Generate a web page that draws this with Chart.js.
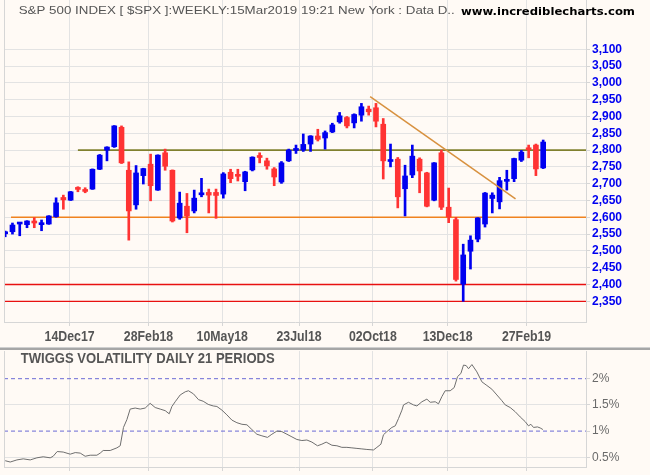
<!DOCTYPE html>
<html><head><meta charset="utf-8">
<script src="https://cdn.jsdelivr.net/npm/chart.js@4.4.1/dist/chart.umd.min.js"></script>
<style>
html,body{margin:0;padding:0;background:#fffaf5;}
#wrap{position:relative;width:650px;height:475px;overflow:hidden;background:#fffaf5;}
.pane{position:absolute;left:0;width:650px;}
</style></head><body>
<div id="wrap">
  <div class="pane" style="top:0;height:347px"><canvas id="top" width="650" height="347"></canvas></div>
  <div class="pane" style="top:347px;height:128px"><canvas id="bot" width="650" height="128"></canvas></div>
</div>
<script>
// ---------- DATA ----------
const weekEnding = ['2017-10-13','2017-10-20','2017-10-27','2017-11-03','2017-11-10','2017-11-17','2017-11-24','2017-12-01','2017-12-08','2017-12-15',
 '2017-12-22','2017-12-29','2018-01-05','2018-01-12','2018-01-19','2018-01-26','2018-02-02','2018-02-09','2018-02-16','2018-02-23',
 '2018-03-02','2018-03-09','2018-03-16','2018-03-23','2018-03-30','2018-04-06','2018-04-13','2018-04-20','2018-04-27','2018-05-04',
 '2018-05-11','2018-05-18','2018-05-25','2018-06-01','2018-06-08','2018-06-15','2018-06-22','2018-06-29','2018-07-06','2018-07-13',
 '2018-07-20','2018-07-27','2018-08-03','2018-08-10','2018-08-17','2018-08-24','2018-08-31','2018-09-07','2018-09-14','2018-09-21',
 '2018-09-28','2018-10-05','2018-10-12','2018-10-19','2018-10-26','2018-11-02','2018-11-09','2018-11-16','2018-11-23','2018-11-30',
 '2018-12-07','2018-12-14','2018-12-21','2018-12-28','2019-01-04','2019-01-11','2019-01-18','2019-01-25','2019-02-01','2019-02-08',
 '2019-02-15','2019-02-22','2019-03-01','2019-03-08','2019-03-15'];
const open  = [2551,2557,2580,2578,2589,2578,2580,2602,2659,2651, 2687,2681,2684,2743,2800,2810,2868,2740,2637,2724,
 2758,2681,2792,2740,2598,2633,2619,2667,2674,2674, 2669,2734,2725,2706,2741,2780,2768,2744,2705,2768,
 2799,2800,2818,2842,2836,2854,2884,2897,2881,2904, 2922,2926,2877,2766,2773,2685,2726,2773,2732,2651,
 2792,2630,2593,2401,2499,2535,2580,2656,2646,2707, 2715,2770,2804,2815,2747];
const high  = [2559,2583,2583,2590,2599,2592,2605,2658,2666,2677, 2691,2688,2744,2787,2810,2873,2872,2765,2754,2746,
 2788,2786,2803,2741,2675,2671,2681,2716,2684,2684, 2733,2743,2743,2737,2780,2792,2776,2748,2766,2803,
 2815,2848,2843,2862,2857,2880,2912,2900,2908,2939, 2931,2939,2894,2818,2778,2755,2815,2777,2734,2763,
 2800,2687,2600,2520,2545,2599,2674,2673,2719,2740, 2776,2799,2815,2818,2830];
const low   = [2542,2550,2545,2569,2569,2560,2579,2600,2624,2650, 2676,2673,2683,2742,2768,2808,2760,2532,2624,2699,
 2649,2680,2740,2586,2594,2554,2613,2661,2613,2597, 2657,2703,2708,2679,2738,2762,2743,2694,2701,2766,
 2790,2796,2796,2827,2803,2852,2880,2866,2866,2886, 2904,2869,2714,2750,2628,2604,2718,2673,2631,2649,
 2623,2584,2410,2350,2446,2527,2571,2613,2625,2681, 2706,2766,2777,2724,2745];
const close = [2553,2577,2582,2589,2583,2580,2604,2643,2652,2676, 2683,2677,2743,2785,2809,2872,2762,2619,2732,2745,
 2694,2785,2752,2589,2642,2604,2657,2669,2666,2665, 2729,2715,2722,2735,2779,2778,2753,2720,2762,2800,
 2801,2817,2842,2832,2852,2875,2902,2872,2906,2929, 2914,2886,2768,2768,2661,2723,2782,2738,2633,2762,
 2630,2601,2415,2488,2532,2598,2672,2666,2709,2709, 2775,2794,2801,2744,2824];

const tickDates  = ['2017-12-14','2018-02-28','2018-05-10','2018-07-23','2018-10-02','2018-12-13','2019-02-27'];
const tickLabels = ['14Dec17','28Feb18','10May18','23Jul18','02Oct18','13Dec18','27Feb19'];
const priceTickRange = [2350, 3100, 50];   // first, last, step

// horizontal support / resistance levels (start given in weeks from first bar; null = from left edge)
const levelPrices    = [2800, 2600, 2400, 2350];
const levelFromWeek  = [10.0, 0.8, null, null];
// trend line (weeks from first bar, price)
const trendWeek  = [50.2, 70.2];
const trendPrice = [2959, 2655];

// Twiggs volatility (position in weeks from first bar, percent)
const volWeek = [0.00,0.69,1.61,2.48,3.44,4.36,5.23,6.19,6.60,7.15, 7.98,8.94,9.63,10.32,11.00,11.69,12.61,13.07,13.48,14.44,
 15.36,15.82,16.27,16.74,17.19,17.88,18.57,19.26,19.94,20.63, 21.32,22.01,22.56,22.93,23.38,24.07,24.76,25.21,25.90,26.59,
 27.23,27.92,28.61,29.12,29.81,30.49,31.18,31.87,32.56,33.25, 33.93,34.62,35.31,36.08,36.68,37.37,38.06,38.75,39.44,40.12,
 40.81,41.50,42.19,42.96,43.56,44.15,44.94,45.63,46.31,47.00, 47.69,48.38,49.06,49.75,50.66,51.13,51.68,52.03,52.50,53.19,
 53.65,54.10,54.57,54.79,55.47,56.16,56.63,57.32,58.00,58.46, 59.15,59.60,60.07,60.52,61.21,61.76,62.22,62.68,63.04,63.41,
 63.73,64.20,64.88,65.57,66.26,66.94,67.63,68.32,68.78,69.46, 70.15,70.84,71.53,71.98,72.31,72.67,73.22,73.59,73.96];
const volPct = [0.435,0.41,0.45,0.47,0.45,0.49,0.51,0.49,0.52,0.61, 0.60,0.56,0.59,0.58,0.52,0.54,0.54,0.58,0.63,0.63,
 0.68,0.72,1.07,1.22,1.42,1.44,1.42,1.44,1.53,1.45, 1.42,1.39,1.33,1.47,1.56,1.69,1.75,1.77,1.71,1.60,
 1.57,1.51,1.48,1.47,1.40,1.31,1.21,1.16,1.13,1.12, 1.03,0.94,0.91,0.88,0.94,1.00,0.99,0.94,0.89,0.84,
 0.82,0.83,0.79,0.72,0.75,0.79,0.73,0.72,0.69,0.69, 0.68,0.67,0.66,0.65,0.64,0.69,0.75,0.93,0.99,1.07,
 1.10,1.24,1.40,1.50,1.55,1.50,1.48,1.56,1.61,1.55, 1.56,1.52,1.66,1.77,1.77,1.83,2.04,2.10,2.26,2.25,
 2.19,2.27,2.13,1.94,1.87,1.80,1.69,1.58,1.50,1.45, 1.37,1.27,1.18,1.10,1.13,1.07,1.08,1.06,1.03];
const volBands = [2, 1];
const volTickValues = [0.5, 1, 1.5, 2];

const headerText = 'S&P 500 INDEX [ $SPX ]:WEEKLY:15Mar2019 19:21 New York : Data D..';
const siteText = 'www.incrediblecharts.com';
const volTitle = 'TWIGGS VOLATILITY DAILY 21 PERIODS';

// ---------- HELPERS ----------
const DAY = 864e5;
const t0 = Date.parse(weekEnding[0]);
const toWeek = d => (Date.parse(d) - t0) / (7 * DAY);
const weekPos = weekEnding.map(toWeek);
const tickPos = tickDates.map(toWeek);
const priceTickValues = [];
for (let v = priceTickRange[0]; v <= priceTickRange[1]; v += priceTickRange[2]) priceTickValues.push(v);

const BLUE = '#0000f0', RED = '#ff3333';
const GRID = '#e3e3e3', BORDER = '#d6d6d6';
const FONT = '"Liberation Sans", Arial, sans-serif';
const X_MIN = -0.165, X_MAX = 79.89;
const candleColor = c => (close[c.dataIndex] >= open[c.dataIndex] ? BLUE : RED);

function fitText(ctx, text, left, baseline, sx) {
  ctx.save(); ctx.translate(left, baseline); ctx.scale(sx, 1);
  ctx.textAlign = 'left'; ctx.textBaseline = 'alphabetic';
  ctx.fillText(text, 0, 0); ctx.restore();
}
function leftBorder(chart) {
  const ca = chart.chartArea, ctx = chart.ctx;
  ctx.save(); ctx.fillStyle = BORDER;
  ctx.fillRect(Math.round(ca.left), ca.top, 1, ca.bottom - ca.top);
  ctx.restore();
}
function noPad(s) { s.paddingTop = 0; s.paddingBottom = 0; s.paddingLeft = 0; s.paddingRight = 0; }

Chart.defaults.font.family = FONT;

// ---------- PRICE CHART ----------
const levelColors = ['#80802e', '#f0821e', '#e81010', '#e81010'];
const levelWidths = [1.6, 1.6, 1.3, 1.3];
const levelSets = levelPrices.map((p, i) => ({
  type: 'line', order: 5,
  data: [{x: levelFromWeek[i] === null ? X_MIN : levelFromWeek[i], y: p}, {x: X_MAX, y: p}],
  borderColor: levelColors[i], borderWidth: levelWidths[i], pointRadius: 0, tension: 0
}));

const topPlugin = {
  id: 'topDecor',
  afterDraw(chart) {
    const ctx = chart.ctx;
    leftBorder(chart);
    ctx.save();
    ctx.fillStyle = '#555555';
    ctx.font = '11px ' + FONT;
    fitText(ctx, headerText, 18.7, 14, 436 / ctx.measureText(headerText).width);
    ctx.fillStyle = '#000000';
    ctx.font = 'bold 11px "DejaVu Sans", Verdana, sans-serif';
    fitText(ctx, siteText, 461, 14.5, 174 / ctx.measureText(siteText).width);
    // x-axis labels
    const xs = chart.scales.x;
    ctx.fillStyle = '#555555';
    ctx.font = 'bold 14px ' + FONT;
    const sx = 50 / ctx.measureText('14Dec17').width;
    tickLabels.forEach((lab, i) => {
      const w = ctx.measureText(lab).width * sx;
      fitText(ctx, lab, xs.getPixelForValue(tickPos[i]) - w / 2, 340.5, sx);
    });
    ctx.restore();
  }
};

new Chart(document.getElementById('top'), {
  type: 'bar',
  data: {
    datasets: [
      ...levelSets,
      { type: 'bar', order: 3, grouped: false,
        data: weekPos.map((x, i) => ({x, y: [low[i], high[i]]})),
        backgroundColor: candleColor, borderWidth: 0,
        barPercentage: 1, categoryPercentage: 1, maxBarThickness: 2, barThickness: 2 },
      { type: 'bar', order: 2, grouped: false,
        data: weekPos.map((x, i) => ({x, y: [Math.min(open[i], close[i]), Math.max(open[i], close[i])]})),
        backgroundColor: candleColor, borderWidth: 0, minBarLength: 2,
        barPercentage: 1, categoryPercentage: 1, maxBarThickness: 5, barThickness: 5 },
      { type: 'line', order: 1,
        data: trendWeek.map((x, i) => ({x, y: trendPrice[i]})),
        borderColor: '#d8913f', borderWidth: 1.5, pointRadius: 0, tension: 0 }
    ]
  },
  options: {
    responsive: false, animation: false,
    layout: { padding: {left: 4, top: 0, right: 0, bottom: 0}, autoPadding: false },
    plugins: { legend: {display: false}, tooltip: {enabled: false} },
    scales: {
      x: { type: 'linear', min: X_MIN, max: X_MAX, offset: false,
        grid: { color: GRID, offset: false, drawTicks: true, tickLength: 4, tickColor: BORDER },
        border: { display: true, color: BORDER },
        ticks: { display: false },
        afterBuildTicks: s => { s.ticks = tickPos.map(v => ({value: v})); },
        afterFit: s => { s.height = 25; noPad(s); } },
      y: { type: 'linear', position: 'right', min: 2288.4, max: 3246.7, beginAtZero: false,
        grid: { color: GRID, tickLength: 4, tickColor: BORDER },
        border: { display: true, color: BORDER },
        ticks: { padding: 2, color: BLUE,
          font: { family: FONT, size: 12, weight: 'bold' },
          callback: v => v.toLocaleString('en-US') },
        afterBuildTicks: s => { s.ticks = priceTickValues.map(v => ({value: v})); },
        afterFit: s => { s.width = 64; noPad(s); } }
    }
  },
  plugins: [topPlugin]
});

// ---------- VOLATILITY CHART ----------
const botPlugin = {
  id: 'botDecor',
  beforeDraw(chart) {
    const ctx = chart.ctx;
    ctx.save();
    ctx.fillStyle = '#cfcfcf'; ctx.fillRect(0, 0, 650, 1);
    ctx.fillStyle = '#a6a6a6'; ctx.fillRect(0, 1, 650, 2);
    ctx.restore();
  },
  afterDraw(chart) {
    const ctx = chart.ctx;
    leftBorder(chart);
    ctx.save();
    ctx.fillStyle = '#555555';
    ctx.font = 'bold 14px ' + FONT;
    fitText(ctx, volTitle, 20.7, 16.3, 254 / ctx.measureText(volTitle).width);
    ctx.restore();
  }
};

new Chart(document.getElementById('bot'), {
  type: 'line',
  data: {
    datasets: [
      { data: volWeek.map((x, i) => ({x, y: volPct[i]})),
        borderColor: '#6e6e6e', borderWidth: 1, pointRadius: 0, tension: 0, order: 1 },
      ...volBands.map(b => ({
        data: [{x: X_MIN, y: b}, {x: X_MAX, y: b}],
        borderColor: '#6a6ad6', borderWidth: 1, borderDash: [4, 3], pointRadius: 0, order: 2 }))
    ]
  },
  options: {
    responsive: false, animation: false,
    layout: { padding: {left: 4, top: 4, right: 0, bottom: 0}, autoPadding: false },
    plugins: { legend: {display: false}, tooltip: {enabled: false} },
    scales: {
      x: { type: 'linear', min: X_MIN, max: X_MAX, offset: false,
        grid: { color: GRID, offset: false, tickLength: 4, tickColor: BORDER },
        border: { display: true, color: BORDER },
        ticks: { display: false },
        afterBuildTicks: s => { s.ticks = tickPos.map(v => ({value: v})); },
        afterFit: s => { s.height = 8; noPad(s); } },
      y: { type: 'linear', position: 'right', min: 0.3149, max: 2.5286,
        grid: { color: c => (c.tick && volBands.includes(c.tick.value) ? 'rgba(0,0,0,0)' : GRID), tickLength: 4, tickColor: BORDER },
        border: { display: true, color: BORDER },
        ticks: { padding: 2, color: '#6a6a6a',
          font: { family: FONT, size: 12 },
          callback: v => v + '%' },
        afterBuildTicks: s => { s.ticks = volTickValues.map(v => ({value: v})); },
        afterFit: s => { s.width = 64; noPad(s); } }
    }
  },
  plugins: [botPlugin]
});
</script>
</body></html>
